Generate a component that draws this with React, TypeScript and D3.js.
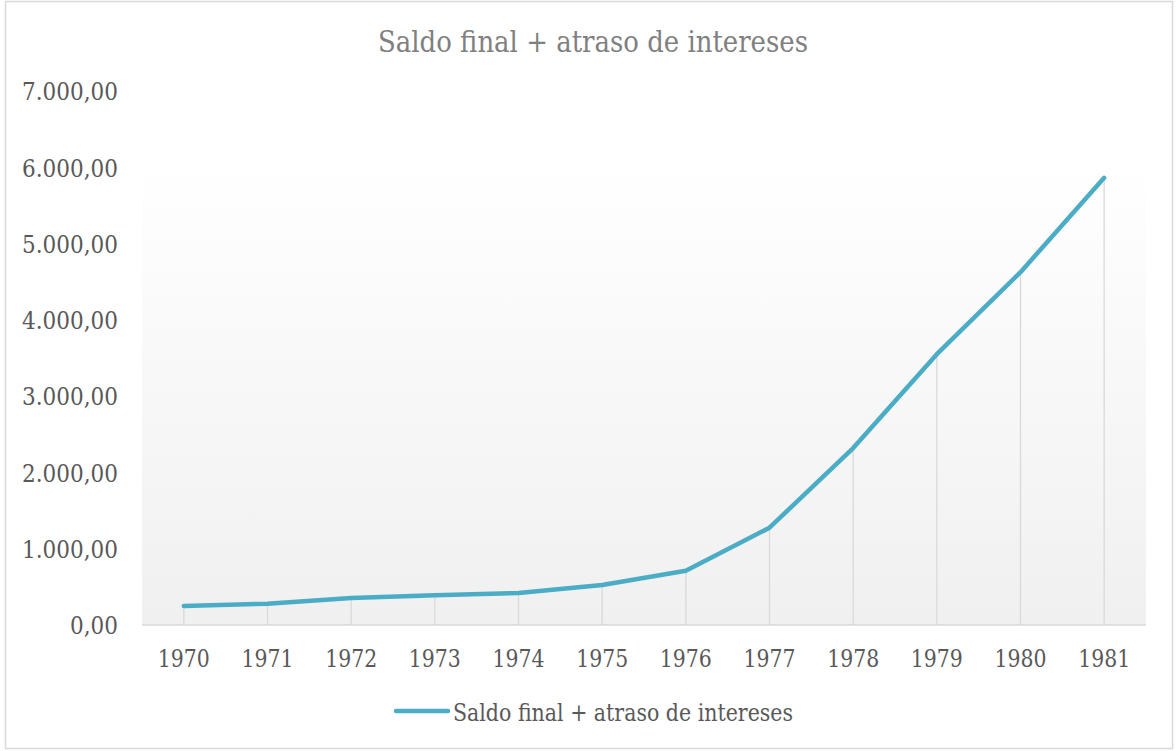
import React from "react";
import * as d3 from "d3";

const years = ["1970","1971","1972","1973","1974","1975","1976","1977","1978","1979","1980","1981"];
const values = [249, 280, 354, 390, 420, 525, 710, 1275, 2320, 3550, 4625, 5862];
const yTicks = [0, 1000, 2000, 3000, 4000, 5000, 6000, 7000];
const title = "Saldo final + atraso de intereses";
const seriesName = "Saldo final + atraso de intereses";

const W = 1176, H = 751;
const left = 142, right = 1146, top = 91, bottom = 625;

const fmt = (v: number) => {
  const s = d3.format(",.2f")(v);
  return s.replace(/,/g, "#").replace(/\./g, ",").replace(/#/g, ".");
};

export default function App() {
  const x = d3.scaleBand<string>().domain(years).range([left, right]);
  const y = d3.scaleLinear().domain([0, 7000]).range([bottom, top]);
  const cx = (d: string) => (x(d) as number) + x.bandwidth() / 2;
  const line = d3.line<number>().x((_, i) => cx(years[i])).y((v) => y(v));
  const ff = { fontFamily: "'DejaVu Serif', serif" };
  return (
    <svg width={W} height={H} style={{ position: "absolute", left: 0, top: 0, background: "#fff" }}>
      <defs>
        <linearGradient id="pg" x1="0" y1="0" x2="0" y2="1">
          <stop offset="0" stopColor="#ffffff" />
          <stop offset="1" stopColor="#f0f0f0" />
        </linearGradient>
      </defs>
      <rect x={5.5} y={1.5} width={1167} height={747} fill="#fff" stroke="#d9d9d9" strokeWidth={1.5} />
      <rect x={left} y={161} width={right - left} height={bottom - 161} fill="url(#pg)" />
      <text x={593} y={51.5} textAnchor="middle" style={ff} fontSize={29} fill="#808080" textLength={430} lengthAdjust="spacingAndGlyphs">{title}</text>
      {yTicks.map((t) => (
        <text key={t} x={118} y={y(t) + 9.3} textAnchor="end" style={ff} fontSize={25} fill="#595959" textLength={t === 0 ? 48 : 96} lengthAdjust="spacingAndGlyphs">{fmt(t)}</text>
      ))}
      {values.map((v, i) => (
        <line key={i} x1={cx(years[i])} x2={cx(years[i])} y1={y(v)} y2={bottom} stroke="#d9d9d9" strokeWidth={1.3} />
      ))}
      <line x1={left} x2={right} y1={bottom} y2={bottom} stroke="#d9d9d9" strokeWidth={1.5} />
      {years.map((d) => (
        <text key={d} x={cx(d)} y={667.3} textAnchor="middle" style={ff} fontSize={24} fill="#595959" textLength={52} lengthAdjust="spacingAndGlyphs">{d}</text>
      ))}
      <path d={line(values) || ""} fill="none" stroke="#4bacc6" strokeWidth={4.5} strokeLinecap="round" strokeLinejoin="round" />
      <line x1={396} x2={448} y1={711} y2={711} stroke="#4bacc6" strokeWidth={4.5} strokeLinecap="round" />
      <text x={453} y={720.5} style={ff} fontSize={25} fill="#595959" textLength={340} lengthAdjust="spacingAndGlyphs">{seriesName}</text>
    </svg>
  );
}
